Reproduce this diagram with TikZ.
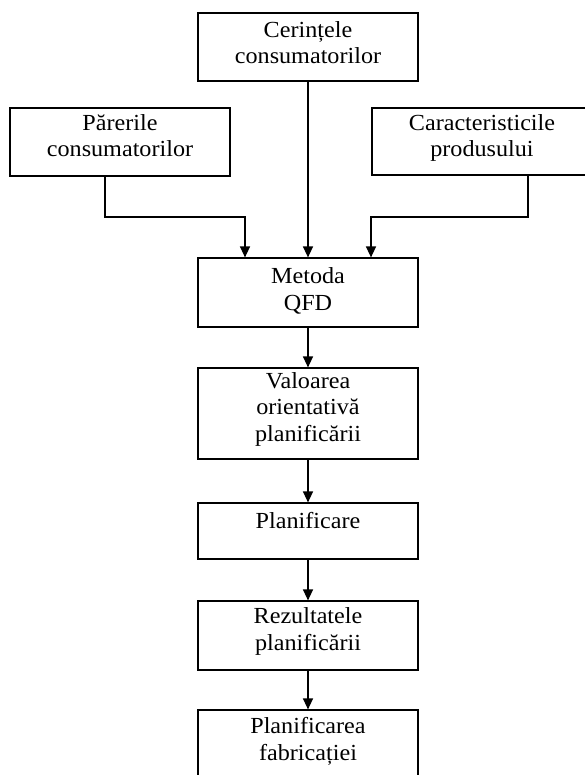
\documentclass[tikz,border=0pt]{standalone}
\usepackage{fontspec}
\setmainfont{Liberation Serif}[FakeStretch=1.05]
\usetikzlibrary{arrows.meta}

\begin{document}
\begin{tikzpicture}[x=1pt,y=-1pt,
    box/.style={draw=black, line width=1.2pt, minimum width=220pt, inner sep=0pt},
    label/.style={align=center, anchor=base, inner sep=0pt,
                  font=\fontsize{23}{26.5}\selectfont},
    arr/.style={line width=1.4pt, -{Triangle[width=10pt,length=11pt]}}]

  % page frame
  \useasboundingbox (0,0) rectangle (585,775);
  \clip (0,0) rectangle (585,775);

  % input boxes
  \node[box, minimum height=68pt] (req) at (308,47) {};
  \node[box, minimum height=68pt] (opin) at (120,142) {};
  \node[box, minimum height=67pt] (prod) at (482,141.5) {};

  % main chain
  \node[box, minimum height=69pt] (qfd) at (308,292.5) {};
  \node[box, minimum height=91pt] (val) at (308,413.5) {};
  \node[box, minimum height=56pt] (plan) at (308,531) {};
  \node[box, minimum height=69pt] (res) at (308,635.5) {};
  \node[box, minimum height=80pt] (fab) at (308,750) {};

  % box texts, placed by the baseline of their last line
  \node[label] (treq) at (308,64) {Cerințele\\consumatorilor};
  \node[label] (topin) at (120,157) {Părerile\\consumatorilor};
  \node[label] (tprod) at (482,157) {Caracteristicile\\produsului};
  \node[label] (tqfd) at (308,310) {Metoda\\QFD};
  \node[label] (tval) at (308,441) {Valoarea\\orientativă\\planificării};
  \node[label] (tplan) at (308,528) {Planificare};
  \node[label] (tres) at (308,650) {Rezultatele\\planificării};
  \node[label] (tfab) at (308,760) {Planificarea\\fabricației};

  % elbow points of the side inputs
  \coordinate (jl) at (105,217);
  \coordinate (jr) at (528,217);
  \coordinate (inl) at (245,0);
  \coordinate (inr) at (371,0);

  % inputs into the QFD method
  \draw[arr] (req.south) -- (qfd.north);
  \draw[arr] (opin.south -| jl) -- (jl) -| (qfd.north -| inl);
  \draw[arr] (prod.south -| jr) -- (jr) -| (qfd.north -| inr);

  % chain
  \draw[arr] (qfd.south) -- (val.north);
  \draw[arr] (val.south) -- (plan.north);
  \draw[arr] (plan.south) -- (res.north);
  \draw[arr] (res.south) -- (fab.north);
\end{tikzpicture}
\end{document}
